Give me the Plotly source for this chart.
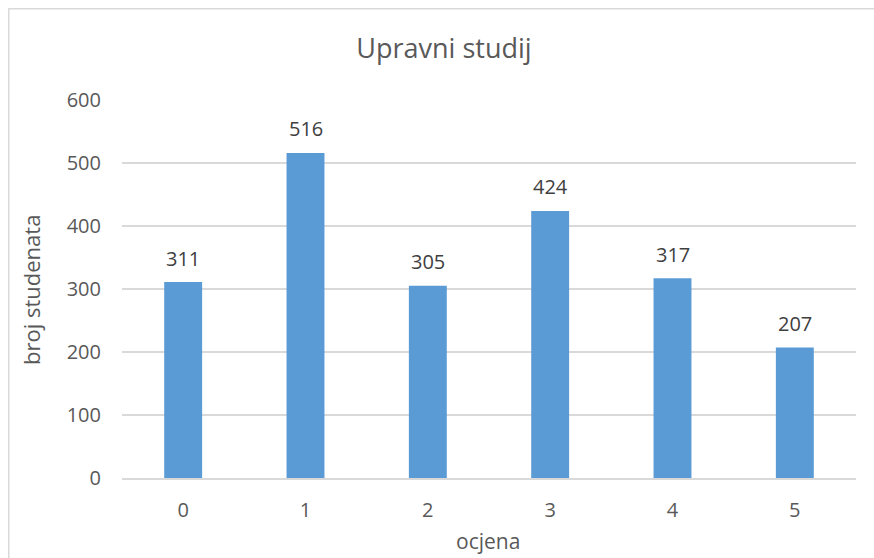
import plotly.graph_objects as go

categories = ["0", "1", "2", "3", "4", "5"]
values = [311, 516, 305, 424, 317, 207]
y_ticks = [0, 100, 200, 300, 400, 500, 600]

W, H = 874, 558
L, R, T, B = 122, 18, 100, 80
pw, ph = W - L - R, H - T - B
FONT = "Open Sans"
GREY = "#595959"

fig = go.Figure()
fig.add_trace(go.Bar(
    x=categories, y=values,
    marker=dict(color="#5B9BD5", line=dict(width=0)),
    width=0.31,
))
for c, v in zip(categories, values):
    fig.add_annotation(x=c, y=v, text=str(v), showarrow=False, yshift=24,
                       font=dict(size=20, color="#404040", family=FONT))

fig.add_annotation(xref="paper", yref="paper", x=(488 - L) / pw, y=-(541 - (H - B)) / ph,
                   text="ocjena", showarrow=False, xanchor="center", yanchor="middle",
                   font=dict(size=21, color=GREY, family=FONT))
fig.add_annotation(xref="paper", yref="paper", x=(31 - L) / pw, y=((H - B) - 290) / ph,
                   text="broj studenata", showarrow=False, textangle=-90,
                   xanchor="center", yanchor="middle",
                   font=dict(size=22, color=GREY, family=FONT))

fig.update_layout(
    width=W, height=H,
    margin=dict(l=L, r=R, t=T, b=B),
    paper_bgcolor="white", plot_bgcolor="white",
    font=dict(family=FONT, color=GREY),
    title=dict(text="Upravni studij", x=444 / W, xanchor="center",
               y=1 - 49 / H, yanchor="middle", font=dict(size=27, color=GREY)),
    showlegend=False,
    xaxis=dict(
        showgrid=False, showline=True, linecolor="#D9D9D9", linewidth=1.5,
        ticks="", tickfont=dict(size=20, color=GREY), ticklabelstandoff=13,
    ),
    yaxis=dict(
        range=[0, 600], tickvals=y_ticks, showgrid=True, gridcolor="#D9D9D9",
        gridwidth=1.5, zeroline=False, showline=False, ticks="",
        tickfont=dict(size=20, color=GREY), ticklabelstandoff=20,
    ),
    shapes=[dict(
        type="rect", xref="paper", yref="paper",
        x0=(8.75 - L) / pw, x1=(W + 20 - L) / pw,
        y0=-(B + 20) / ph, y1=(H - B - 8.75) / ph,
        line=dict(color="#D9D9D9", width=1.5), fillcolor="rgba(0,0,0,0)", layer="below",
    )],
)
fig.write_html("out.html", config={"displayModeBar": False},
               post_script="document.body.style.margin='0';document.body.style.overflow='hidden';")
